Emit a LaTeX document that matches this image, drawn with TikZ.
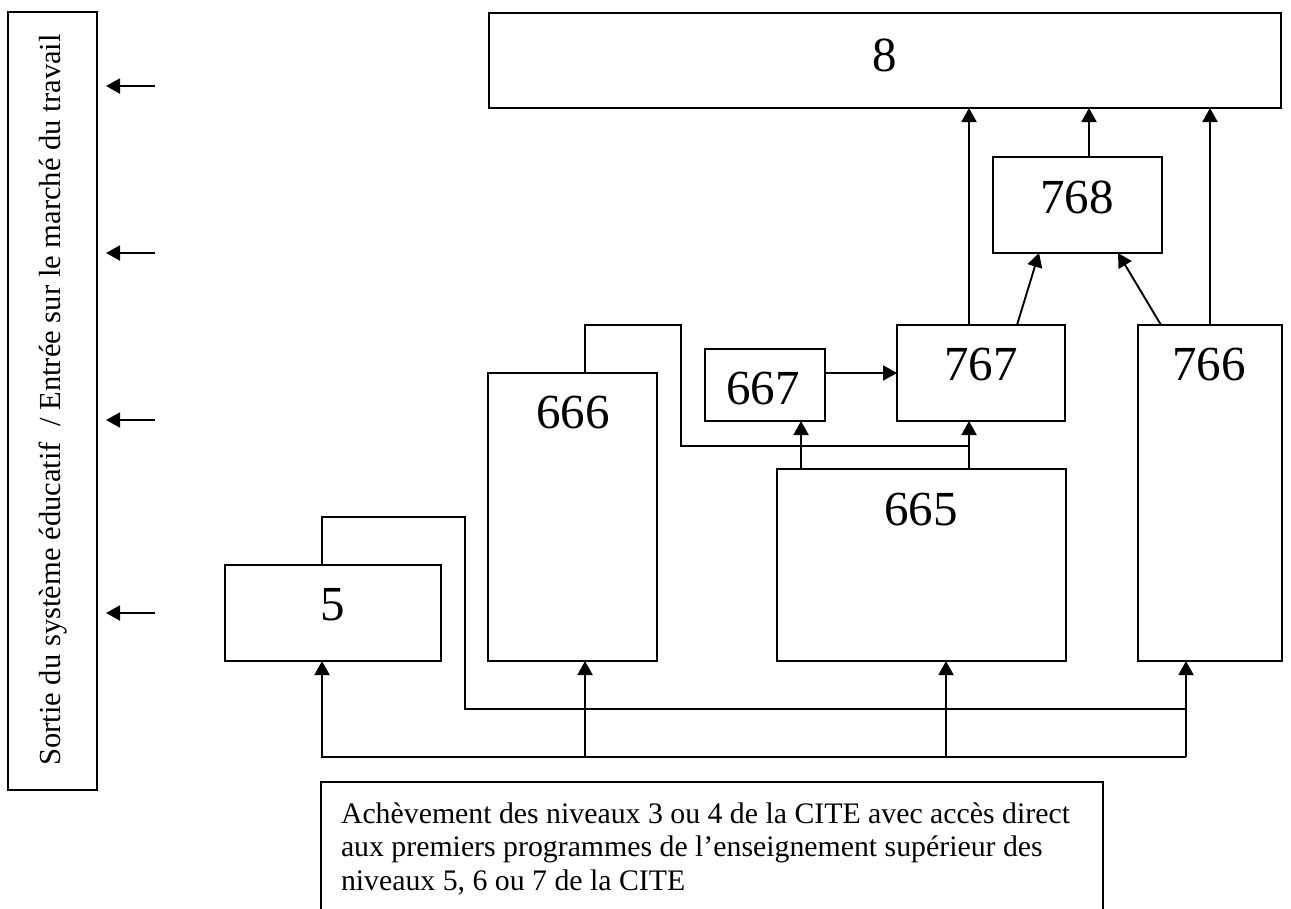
\documentclass[tikz,border=0pt]{standalone}
\usepackage{fontspec}
\setmainfont{Liberation Serif}
\usetikzlibrary{arrows.meta}
\begin{document}
\begin{tikzpicture}[x=1pt,y=-1pt,
  every node/.style={inner sep=0pt, outer sep=0pt},
  box/.style={draw, line width=1.9pt},
  num/.style={font=\fontsize{49}{51}\selectfont},
  txt/.style={font=\fontsize{29.8}{33.5}\selectfont},
  sidetxt/.style={font=\fontsize{30.6}{34}\selectfont},
  conn/.style={line width=1.9pt},
  arr/.style={conn, -{Triangle[length=14pt,width=15pt]}}]
\useasboundingbox (0,0) rectangle (1291,908);

% boxes
\node[box, minimum width=89pt,  minimum height=778pt] (side) at (52.5,401) {};
\node[box, minimum width=792pt, minimum height=95pt]  (b8)   at (885,60.5) {};
\node[box, minimum width=169pt, minimum height=96pt]  (b768) at (1077.5,205) {};
\node[box, minimum width=168pt, minimum height=96pt]  (b767) at (981,373) {};
\node[box, minimum width=144pt, minimum height=336pt] (b766) at (1210,493) {};
\node[box, minimum width=120pt, minimum height=72pt]  (b667) at (765,385) {};
\node[box, minimum width=169pt, minimum height=288pt] (b666) at (572.5,517) {};
\node[box, minimum width=289pt, minimum height=192pt] (b665) at (921.5,565) {};
\node[box, minimum width=216pt, minimum height=96pt]  (b5)   at (333,613) {};
\node[box, minimum width=782pt, minimum height=160pt, anchor=north west] (bottom) at (321,782) {};

% labels
\node[num] (l8)   at (885,55)   {8};
\node[num] (l768) at (1077,197) {768};
\node[num] (l767) at (981,365)  {767};
\node[num] (l766) at (1209,365) {766};
\node[num] (l667) at (763,389)  {667};
\node[num] (l666) at (573,413)  {666};
\node[num] (l665) at (921,510)  {665};
\node[num] (l5)   at (333,605)  {5};

\node[sidetxt, rotate=90, anchor=base] (sidet) at (60,400)
  {Sortie du système éducatif\ \ / Entrée sur le marché du travail};
\node[txt, anchor=base west] (btext) at (341,823)
  {\parbox[t]{760pt}{Achèvement des niveaux 3 ou 4 de la CITE avec accès direct\\
   aux premiers programmes de l’enseignement supérieur des\\
   niveaux 5, 6 ou 7 de la CITE}};

% helper coordinates
\coordinate (x969)  at (969,0);
\coordinate (x1089) at (1089,0);
\coordinate (x1017) at (1017,0);
\coordinate (x1039) at (1039,0);
\coordinate (x1161) at (1161,0);
\coordinate (x1118) at (1118,0);
\coordinate (x801)  at (801,0);
\coordinate (x585)  at (585,0);
\coordinate (x946)  at (946,0);
\coordinate (k1) at (585,325);
\coordinate (k2) at (681,325);
\coordinate (k3) at (681,446);
\coordinate (k4) at (969,446);
\coordinate (m1) at (322,517);
\coordinate (m2) at (465,517);
\coordinate (m3) at (465,709);
\coordinate (m4) at (1186,709);
\coordinate (bus1) at (322,757);
\coordinate (bus2) at (1186,757);
\coordinate (as1) at (155,86);
\coordinate (as2) at (155,253);
\coordinate (as3) at (155,420);
\coordinate (as4) at (155,613);

% left arrows
\foreach \a in {as1,as2,as3,as4}
  \draw[arr, shorten >=9pt] (\a) -- (\a -| side.east);

% upper connectors
\draw[arr] (b767.north -| x969)  -- (b8.south -| x969);
\draw[arr] (b768.north -| x1089) -- (b8.south -| x1089);
\draw[arr] (b766.north) -- (b766.north |- b8.south);
\draw[arr] (b767.north -| x1017) -- (b768.south -| x1039);
\draw[arr] (b766.north -| x1161) -- (b768.south -| x1118);
\draw[arr] (b667.east |- b767.west) -- (b767.west);
\draw[arr] (b665.north -| x801) -- (b667.south -| x801);
\draw[arr] (b665.north -| x969) -- (b767.south -| x969);

% routed lines
\draw[conn] (b666.north -| k1) -- (k1) -- (k2) -- (k3) -- (k4);
\draw[conn] (b5.north -| m1) -- (m1) -- (m2) -- (m3) -- (m4);

% bottom bus
\draw[arr] (bus2) -- (bus1) -- (b5.south -| bus1);
\draw[arr] (bus2) -- (b766.south -| bus2);
\draw[arr] (bus1 -| x585) -- (b666.south -| x585);
\draw[arr] (bus1 -| x946) -- (b665.south -| x946);
\end{tikzpicture}
\end{document}
